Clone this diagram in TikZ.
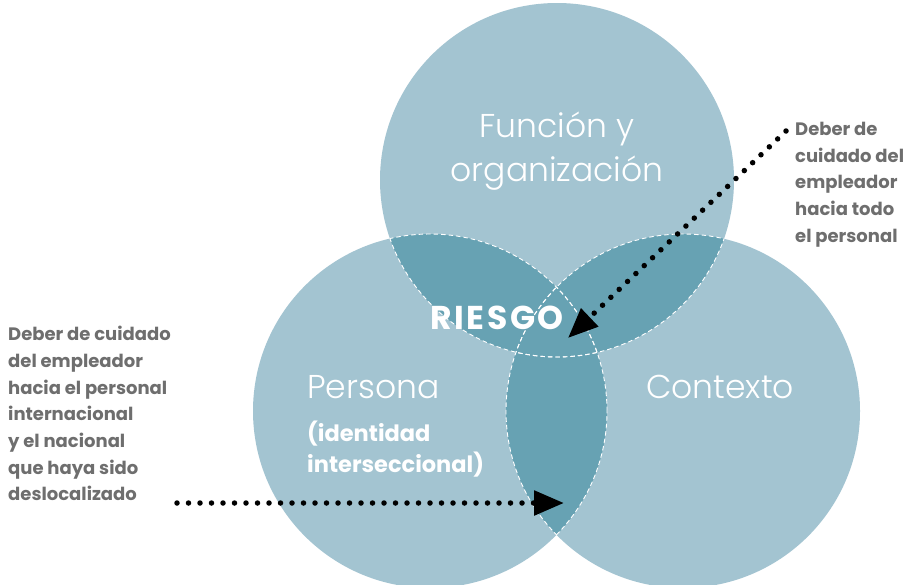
\documentclass[tikz,border=0pt]{standalone}
\usepackage{fontspec}
\setmainfont{Poppins}
\newfontfamily\thinfont{Poppins}[UprightFont={* Light}]
\newfontfamily\spacedfont{Poppins}[LetterSpace=8]
\usetikzlibrary{arrows.meta,positioning}
\definecolor{circfill}{HTML}{A3C4D1}
\definecolor{lensfill}{HTML}{67A2B3}
\definecolor{notegray}{HTML}{6E6E6E}
\tikzset{
  lens/.style={fill=lensfill},
  seam/.style={draw=white,dashed,line width=0.9pt,dash pattern=on 4.5pt off 3pt},
  title/.style={text=white,font=\thinfont\fontsize{33}{44}\selectfont,align=center,inner sep=0pt},
  note/.style={text=notegray,font=\bfseries\fontsize{18}{26.7}\selectfont,align=left,inner sep=0pt},
  dotarrow/.style={line width=5.5pt,line cap=round,dash pattern=on 0pt off 11.5pt,
    -{Triangle[length=30pt,width=24pt]}}
}

\begin{document}
\begin{tikzpicture}[x=1pt,y=-1pt]
    \useasboundingbox[fill=white] (0,0) rectangle (904,584);

    % the three circles
    \coordinate (topc) at (557,180);
    \coordinate (leftc) at (430,411);
    \coordinate (rightc) at (683,411);
    \fill[circfill] (topc) circle (177pt);
    \fill[circfill] (leftc) circle (177pt);
    \fill[circfill] (rightc) circle (177pt);

    % overlaps
    \begin{scope}
        \clip (topc) circle (177pt);
        \fill[lens] (leftc) circle (177pt);
        \fill[lens] (rightc) circle (177pt);
    \end{scope}
    \begin{scope}
        \clip (leftc) circle (177pt);
        \fill[lens] (rightc) circle (177pt);
    \end{scope}

    % dashed seams inside the overlaps
    \foreach \a/\b in {topc/leftc,topc/rightc,leftc/topc,leftc/rightc,rightc/topc,rightc/leftc}{
        \begin{scope}
            \clip (\b) circle (177pt);
            \draw[seam] (\a) circle (177pt);
        \end{scope}
    }

    % labels in the circles
    \node[title] (funcion) at (557,151) {Función y\\organización};
    \node[title,anchor=west] (persona) at (307,387) {Persona};
    \node[title] (contexto) at (720,387) {Contexto};
    \node[text=white,font=\bfseries\fontsize{22.5}{31}\selectfont,align=left,inner sep=0pt,anchor=north west]
        (identidad) at (307,421) {(identidad\\interseccional)};
    \node[text=white,font=\spacedfont\bfseries\fontsize{33}{40}\selectfont,inner sep=0pt] (riesgo) at (497,318) {RIESGO};

    % notes
    \node[note,anchor=north west] (notetodo) at (795,122)
        {Deber de\\cuidado del\\empleador\\hacia todo\\el personal};
    \node[note,anchor=north west] (noteintl) at (8,326)
        {Deber de cuidado\\del empleador\\hacia el personal\\internacional\\y el nacional\\que haya sido\\deslocalizado};

    % arrows
    \coordinate (tipr) at (568,338);
    \coordinate (startl) at (177,503);
    \coordinate (tipl) at (564,503);
    \draw[dotarrow] ([shift={(-9,9)}]notetodo.north west) -- (tipr);
    \draw[dotarrow] (startl) -- (tipl);
\end{tikzpicture}
\end{document}
